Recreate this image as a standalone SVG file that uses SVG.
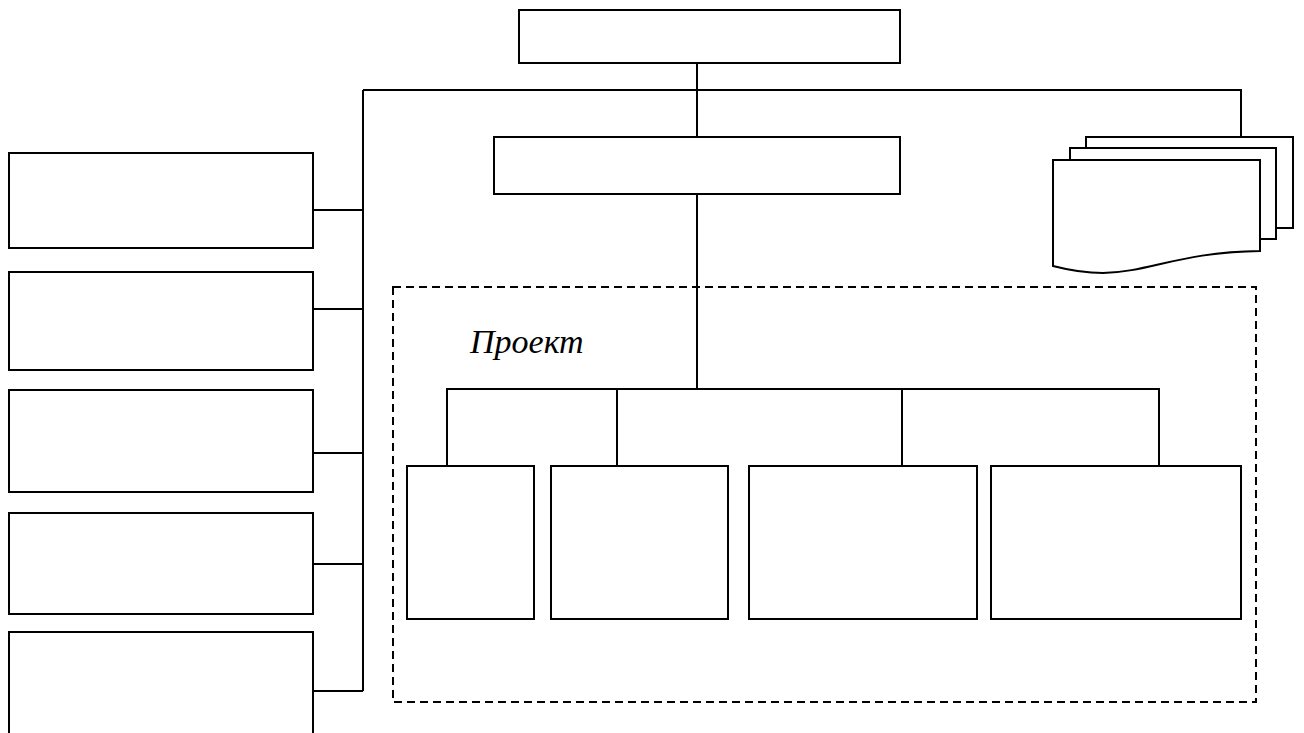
<svg xmlns="http://www.w3.org/2000/svg" width="1304" height="733" viewBox="0 0 1304 733">
<style>
.b{fill:#fff;stroke:#000;stroke-width:2}
.c{fill:none;stroke:#000;stroke-width:2}
.d{fill:none;stroke:#000;stroke-width:2;stroke-dasharray:8,5}
.t{font-family:"Liberation Serif",serif;font-style:italic;font-size:34px;fill:#000}
</style>
<rect width="1304" height="733" fill="#fff"/>
<g id="connectors">
<path class="c" d="M697,63V137M363,90H1241V137M697,194V389M447,466V389H1159V466M617,389V466M902,389V466M363,90V691M313,210H363M313,309H363M313,453H363M313,564H363M313,691H363"/>
</g>
<g id="top"><rect class="b" x="519" y="10" width="381" height="53"/></g>
<g id="second"><rect class="b" x="494" y="137" width="406" height="57"/></g>
<g id="left1"><rect class="b" x="9" y="153" width="304" height="95"/></g>
<g id="left2"><rect class="b" x="9" y="272" width="304" height="98"/></g>
<g id="left3"><rect class="b" x="9" y="390" width="304" height="102"/></g>
<g id="left4"><rect class="b" x="9" y="513" width="304" height="101"/></g>
<g id="left5"><rect class="b" x="9" y="632" width="304" height="110"/></g>
<g id="docs">
<rect class="b" x="1086" y="137" width="207" height="91"/>
<rect class="b" x="1070" y="148" width="206" height="91"/>
<path class="b" d="M1053,160H1260V251C1180,252 1150,272 1103,273Q1080,273 1053,266Z"/>
</g>
<g id="project">
<rect class="d" x="393" y="287" width="863" height="415"/>
<text class="t" x="470" y="353">Проект</text>
</g>
<g id="p1"><rect class="b" x="407" y="466" width="127" height="153"/></g>
<g id="p2"><rect class="b" x="551" y="466" width="177" height="153"/></g>
<g id="p3"><rect class="b" x="749" y="466" width="228" height="153"/></g>
<g id="p4"><rect class="b" x="991" y="466" width="250" height="153"/></g>
</svg>
